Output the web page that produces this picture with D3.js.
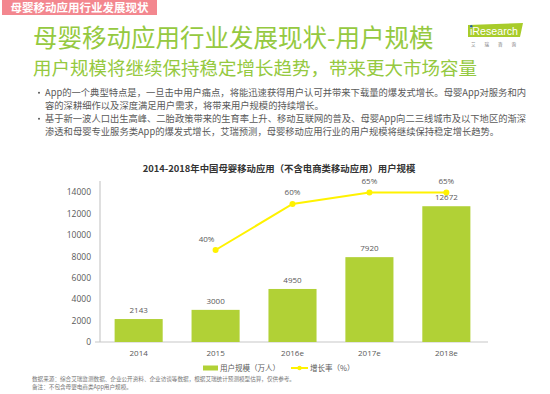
<!DOCTYPE html>
<html><head><meta charset="utf-8">
<script src="https://cdn.jsdelivr.net/npm/d3@7"></script>
<style>
html,body{margin:0;padding:0;background:#fff;}
svg{display:block;font-family:"Noto Sans CJK SC","Noto Sans",sans-serif;}
</style></head>
<body>
<svg id="chart" width="550" height="394"></svg>
<script>
const categories = ["2014", "2015", "2016e", "2017e", "2018e"];
const users = [2143, 3000, 4950, 7920, 12672];
const growth = [null, 40, 60, 65, 65];
const yTicks = [0, 2000, 4000, 6000, 8000, 10000, 12000, 14000];
const headerTag = "母婴移动应用行业发展现状";
const titleText = "母婴移动应用行业发展现状-用户规模";
const subtitleText = "用户规模将继续保持稳定增长趋势，带来更大市场容量";
const bullets = [
  ["App的一个典型特点是，一旦击中用户痛点，将能迅速获得用户认可并带来下载量的爆发式增长。母婴App对服务和内",
   "容的深耕细作以及深度满足用户需求，将带来用户规模的持续增长。"],
  ["基于新一波人口出生高峰、二胎政策带来的生育率上升、移动互联网的普及、母婴App向二三线城市及以下地区的渐深",
   "渗透和母婴专业服务类App的爆发式增长，艾瑞预测，母婴移动应用行业的用户规模将继续保持稳定增长趋势。"]
];
const chartTitle = "2014-2018年中国母婴移动应用（不含电商类移动应用）用户规模";
const legendLabels = ["用户规模（万人）", "增长率（%）"];
const notes = ["数据来源：综合艾瑞监测数据、企业公开资料、企业访谈等数据，根据艾瑞统计预测模型估算，仅供参考。",
               "备注：不包含母婴电商类App用户规模。"];

const GREEN = "#b1d136", TGREEN = "#95c940", YELLOW = "#fff200", GRAY = "#595959";
const svg = d3.select("#chart");

// header tag
svg.append("rect").attr("x", 2).attr("y", 0).attr("width", 155).attr("height", 15).attr("fill", "#f3878f");
svg.append("text").attr("x", 79.5).attr("y", 12).attr("text-anchor", "middle")
  .attr("font-size", 11.5).attr("font-weight", "bold").attr("fill", "#fff").text(headerTag);

// titles
svg.append("text").attr("x", 33).attr("y", 47).attr("font-size", 24.5).attr("fill", TGREEN).text(titleText);
svg.append("text").attr("x", 33).attr("y", 75).attr("font-size", 18.5).attr("fill", TGREEN).text(subtitleText);

// logo
svg.append("path").attr("d", "M468,25 L523,23 L520,37 L468,37 Z").attr("fill", "#a8cc2a");
svg.append("text").attr("x", 470).attr("y", 34.5).attr("font-size", 10).attr("fill", "#fff")
  .attr("textLength", 48).attr("lengthAdjust", "spacingAndGlyphs")
  .attr("font-family", "Liberation Sans, Arial, sans-serif").text("iResearch");
svg.append("circle").attr("cx", 471.3).attr("cy", 26.3).attr("r", 1.2).attr("fill", "#1f5fa8");
svg.append("text").attr("x", 471).attr("y", 46).attr("font-size", 4.5).attr("fill", "#777")
  .attr("letter-spacing", 9).text("艾瑞咨询");

// bullets
bullets.forEach((lines, i) => {
  const y0 = 96 + i * 26;
  svg.append("circle").attr("cx", 39).attr("cy", y0 - 3.2).attr("r", 1).attr("fill", GRAY);
  lines.forEach((ln, j) => {
    const t = svg.append("text").attr("x", 45).attr("y", y0 + j * 12.5).attr("font-size", 9.3).attr("fill", GRAY).text(ln);
    if (j === 0) t.attr("textLength", 481).attr("lengthAdjust", "spacingAndGlyphs");
  });
});

// chart title
svg.append("text").attr("x", 279).attr("y", 172).attr("text-anchor", "middle")
  .attr("font-size", 9.4).attr("font-weight", "bold").attr("fill", "#333").text(chartTitle);

// scales
const x = d3.scaleBand().domain(categories).range([100, 485]).paddingInner(0.375).paddingOuter(0.19);
const y = d3.scaleLinear().domain([0, 14000]).range([342, 192]);
const y2 = d3.scaleLinear().domain([0, 70]).range([342, 181]);

// y axis
const yAxis = svg.append("g").attr("transform", "translate(100,0)")
  .call(d3.axisLeft(y).tickValues(yTicks).tickSize(0).tickPadding(9).tickFormat(d3.format("d")));
yAxis.select(".domain").remove();
yAxis.selectAll("text").attr("font-size", 8.5).attr("fill", GRAY).attr("font-family", "Open Sans, Noto Sans, sans-serif");
svg.append("line").attr("x1", 100).attr("x2", 100).attr("y1", 181).attr("y2", 342)
  .attr("stroke", "#d4d4d4").attr("stroke-width", 1.5);

// x axis
const xAxis = svg.append("g").attr("transform", "translate(0,342)")
  .call(d3.axisBottom(x).tickSize(0).tickPadding(8));
xAxis.select(".domain").attr("stroke", "#c8c8c8").attr("stroke-width", 1.2).attr("d", "M95,0H488");
xAxis.selectAll("text").attr("font-size", 8).attr("fill", GRAY).attr("font-family", "Open Sans, Noto Sans, sans-serif");

// bars
svg.append("g").selectAll("rect").data(users).join("rect")
  .attr("x", (d, i) => x(categories[i])).attr("width", x.bandwidth())
  .attr("y", d => y(d)).attr("height", d => y(0) - y(d)).attr("fill", GREEN);
svg.append("g").selectAll("text").data(users).join("text")
  .attr("x", (d, i) => x(categories[i]) + x.bandwidth() / 2).attr("y", d => y(d) - 6)
  .attr("text-anchor", "middle").attr("font-size", 8).attr("fill", GRAY)
  .attr("font-family", "Open Sans, Noto Sans, sans-serif").text(d => d);

// growth line
const pts = growth.map((g, i) => ({ c: categories[i], g })).filter(p => p.g !== null);
const line = d3.line().x(p => x(p.c) + x.bandwidth() / 2).y(p => y2(p.g));
svg.append("path").datum(pts).attr("d", line).attr("fill", "none").attr("stroke", YELLOW).attr("stroke-width", 2);
svg.append("g").selectAll("circle").data(pts).join("circle")
  .attr("cx", p => x(p.c) + x.bandwidth() / 2).attr("cy", p => y2(p.g)).attr("r", 3).attr("fill", YELLOW);
svg.append("g").selectAll("text").data(pts).join("text")
  .attr("x", (p, i) => x(p.c) + x.bandwidth() / 2 - (i === 0 ? 9 : 0)).attr("y", (p, i) => y2(p.g) - (i === 0 ? 8 : 9))
  .attr("text-anchor", "middle").attr("font-size", 8).attr("fill", GRAY)
  .attr("font-family", "Open Sans, Noto Sans, sans-serif").text(p => p.g + "%");

// legend
svg.append("rect").attr("x", 203).attr("y", 365.5).attr("width", 15).attr("height", 5).attr("fill", GREEN);
svg.append("text").attr("x", 220).attr("y", 371).attr("font-size", 7.5).attr("fill", GRAY).text(legendLabels[0]);
svg.append("line").attr("x1", 291).attr("x2", 308).attr("y1", 368).attr("y2", 368).attr("stroke", YELLOW).attr("stroke-width", 2);
svg.append("circle").attr("cx", 299.5).attr("cy", 368).attr("r", 2.2).attr("fill", YELLOW);
svg.append("text").attr("x", 310).attr("y", 371).attr("font-size", 7.5).attr("fill", GRAY).text(legendLabels[1]);

// notes
notes.forEach((n, i) => {
  svg.append("text").attr("x", 32).attr("y", 381 + i * 8).attr("font-size", 5.6).attr("fill", "#777").text(n);
});
</script>
</body></html>
